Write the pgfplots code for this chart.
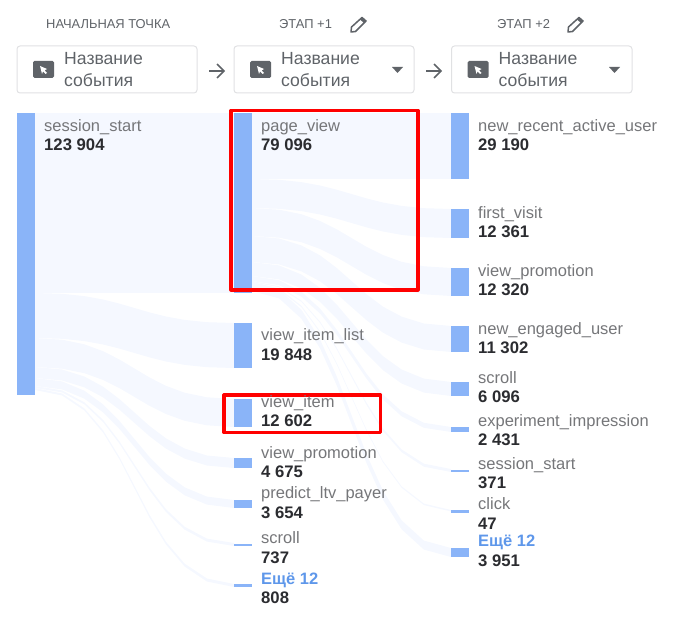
\documentclass[border=0pt]{standalone}
\usepackage{fontspec}
\setmainfont{Liberation Sans}
\usepackage{pgfplots}
\pgfplotsset{compat=1.18}
\definecolor{flowc}{HTML}{F5F8FF}
\definecolor{barc}{HTML}{8AB4F8}
\definecolor{labc}{HTML}{757679}
\definecolor{valc}{HTML}{2B2C30}
\definecolor{hdrc}{HTML}{5F6368}
\definecolor{linkc}{HTML}{5E97EA}
\definecolor{btnc}{HTML}{E0E1E3}
\newcommand{\lab}[5][labc]{%
  \node[anchor=base west,inner sep=0pt,text=#1,font=\fontsize{16.5}{16}\selectfont] at (axis cs:#2,#3+5.7) {#4};
}
\newcommand{\val}[3]{%
  \node[anchor=base west,inner sep=0pt,text=valc,font=\fontsize{16.7}{16}\selectfont\bfseries] at (axis cs:#1,#2+5.7) {#3};
}
\newcommand{\both}[5]{\lab{#1}{#2}{#3}{}\val{#1}{#4}{#5}}
\newcommand{\btn}[3]{%
  \draw[btnc,line width=1pt,rounded corners=3pt] (axis cs:#1,46) rectangle (axis cs:#2,93);
  \fill[hdrc,rounded corners=1.5pt] (axis cs:#1+16,61) rectangle (axis cs:#1+37,78);
  \fill[white] (axis cs:#1+23,66) -- (axis cs:#1+30,69) -- (axis cs:#1+27.5,70.5) -- (axis cs:#1+30,73) -- (axis cs:#1+28.5,74) -- (axis cs:#1+26,71.5) -- (axis cs:#1+25,74) -- cycle;
  \node[anchor=base west,inner sep=0pt,text=hdrc,font=\fontsize{17.6}{16}\selectfont] at (axis cs:#1+47,65) {Название};
  \node[anchor=base west,inner sep=0pt,text=hdrc,font=\fontsize{17.6}{16}\selectfont] at (axis cs:#1+47,87) {события};
}
\newcommand{\tri}[1]{\fill[hdrc] (axis cs:#1,67) -- (axis cs:#1+11,67) -- (axis cs:#1+5.5,73) -- cycle;}
\newcommand{\arr}[1]{\draw[hdrc,line width=1.6pt] (axis cs:#1,71) -- (axis cs:#1+15,71) (axis cs:#1+8,64) -- (axis cs:#1+15,71) -- (axis cs:#1+8,78);}
\newcommand{\pen}[1]{%
  \draw[hdrc,line width=1.5pt,fill=white,line join=round] (axis cs:#1+1,32) -- (axis cs:#1+1.5,27) -- (axis cs:#1+12,17.5) -- (axis cs:#1+16,21) -- (axis cs:#1+5.5,31.5) -- cycle;
  \fill[hdrc] (axis cs:#1+10,19.5) -- (axis cs:#1+12,17.5) -- (axis cs:#1+16,21) -- (axis cs:#1+14,23) -- cycle;
}
\newcommand{\hdr}[2]{\node[anchor=base west,inner sep=0pt,text=hdrc,font=\fontsize{12.9}{12}\selectfont] at (axis cs:#1,28.5) {#2};}
\begin{document}
\begin{tikzpicture}
\begin{axis}[
  scale only axis, width=682pt, height=631pt,
  xmin=0, xmax=682, ymin=0, ymax=631, y dir=reverse,
  hide axis, clip=false,
  flow/.style={fill=flowc,draw=none,forget plot,no marks},
  bar/.style={fill=barc,draw=none,forget plot,no marks},
  box/.style={draw=red,line width=3.2pt,forget plot,no marks,line join=round},
]
\path[use as bounding box] (axis cs:0,0) rectangle (axis cs:682,631);
% flows, first step
\addplot[flow] coordinates {(35,113)(234,113)(234,293)(35,293)} -- cycle;
\addplot[flow] coordinates {(35,293)(62.1,293.8)(84.4,296.1)(103.1,299.5)(119.4,303.6)(134.5,308)(149.6,312.4)(165.9,316.5)(184.6,319.9)(206.9,322.2)(234,323)
 (234,368)(206.9,367.2)(184.6,364.9)(165.9,361.5)(149.6,357.4)(134.5,353)(119.4,348.6)(103.1,344.5)(84.4,341.1)(62.1,338.8)(35,338)} -- cycle;
\addplot[flow] coordinates {(35,338)(62.1,339.7)(84.4,344.3)(103.1,351.2)(119.4,359.5)(134.5,368.5)(149.6,377.5)(165.9,385.8)(184.6,392.7)(206.9,397.3)(234,399)
 (234,427)(206.9,425.3)(184.6,420.8)(165.9,414)(149.6,405.9)(134.5,397)(119.4,388.1)(103.1,380)(84.4,373.2)(62.1,368.7)(35,367)} -- cycle;
\addplot[flow] coordinates {(35,367)(62.1,369.5)(84.4,376.5)(103.1,386.7)(119.4,399)(134.5,412.5)(149.6,426)(165.9,438.3)(184.6,448.5)(206.9,455.5)(234,458)
 (234,468)(206.9,465.5)(184.6,458.6)(165.9,448.6)(149.6,436.3)(134.5,423)(119.4,409.7)(103.1,397.4)(84.4,387.4)(62.1,380.5)(35,378)} -- cycle;
\addplot[flow] coordinates {(35,378)(62.1,381.4)(84.4,390.7)(103.1,404.4)(119.4,420.9)(134.5,439)(149.6,457.1)(165.9,473.6)(184.6,487.3)(206.9,496.6)(234,500)
 (234,508)(206.9,504.6)(184.6,495.3)(165.9,481.6)(149.6,465.1)(134.5,447)(119.4,428.9)(103.1,412.4)(84.4,398.7)(62.1,389.4)(35,386)} -- cycle;
\addplot[flow] coordinates {(35,386)(62.1,390.4)(84.4,402.3)(103.1,419.9)(119.4,441.3)(134.5,464.5)(149.6,487.7)(165.9,509.1)(184.6,526.7)(206.9,538.6)(234,543)
 (234,546)(206.9,541.6)(184.6,529.6)(165.9,511.9)(149.6,490.4)(134.5,467)(119.4,443.6)(103.1,422.1)(84.4,404.4)(62.1,392.4)(35,388)} -- cycle;
\addplot[flow] coordinates {(35,388)(62.1,393.5)(84.4,408.4)(103.1,430.3)(119.4,457)(134.5,486)(149.6,515)(165.9,541.7)(184.6,563.6)(206.9,578.5)(234,584)
 (234,587)(206.9,581.5)(184.6,566.5)(165.9,544.4)(149.6,517.7)(134.5,488.5)(119.4,459.3)(103.1,432.6)(84.4,410.5)(62.1,395.5)(35,390)} -- cycle;
% flows, second step
\addplot[flow] coordinates {(252,113)(451,113)(451,179)(252,179)} -- cycle;
\addplot[flow] coordinates {(252,179)(279.1,179.8)(301.4,182.1)(320.1,185.5)(336.4,189.6)(351.5,194)(366.6,198.4)(382.9,202.5)(401.6,205.9)(423.9,208.2)(451,209)
 (451,238)(423.9,237.2)(401.6,234.9)(382.9,231.5)(366.6,227.4)(351.5,223)(336.4,218.6)(320.1,214.5)(301.4,211.1)(279.1,208.8)(252,208)} -- cycle;
\addplot[flow] coordinates {(252,208)(279.1,209.7)(301.4,214.2)(320.1,221)(336.4,229.1)(351.5,238)(366.6,246.9)(382.9,255)(401.6,261.8)(423.9,266.3)(451,268)
 (451,296)(423.9,294.3)(401.6,289.8)(382.9,283)(366.6,274.9)(351.5,266)(336.4,257.1)(320.1,249)(301.4,242.2)(279.1,237.7)(252,236)} -- cycle;
\addplot[flow] coordinates {(252,236)(279.1,238.5)(301.4,245.4)(320.1,255.4)(336.4,267.7)(351.5,281)(366.6,294.3)(382.9,306.6)(401.6,316.6)(423.9,323.5)(451,326)
 (451,352)(423.9,349.5)(401.6,342.6)(382.9,332.6)(366.6,320.3)(351.5,307)(336.4,293.7)(320.1,281.4)(301.4,271.4)(279.1,264.5)(252,262)} -- cycle;
\addplot[flow] coordinates {(252,262)(279.1,265.4)(301.4,274.5)(320.1,287.9)(336.4,304.2)(351.5,322)(366.6,339.8)(382.9,356.1)(401.6,369.5)(423.9,378.6)(451,382)
 (451,396)(423.9,392.6)(401.6,383.5)(382.9,370.1)(366.6,353.8)(351.5,336)(336.4,318.2)(320.1,301.9)(301.4,288.5)(279.1,279.4)(252,276)} -- cycle;
\addplot[flow] coordinates {(252,276)(279.1,280.2)(301.4,291.7)(320.1,308.6)(336.4,329.2)(351.5,351.5)(366.6,373.8)(382.9,394.4)(401.6,411.3)(423.9,422.8)(451,427)
 (451,432)(423.9,427.8)(401.6,416.3)(382.9,399.4)(366.6,378.8)(351.5,356.5)(336.4,334.2)(320.1,313.6)(301.4,296.7)(279.1,285.2)(252,281)} -- cycle;
\addplot[flow] coordinates {(252,281)(279.1,286.3)(301.4,300.6)(320.1,321.6)(336.4,347.2)(351.5,375)(366.6,402.8)(382.9,428.4)(401.6,449.4)(423.9,463.7)(451,469)
 (451,472)(423.9,466.7)(401.6,452.2)(382.9,431)(366.6,405.1)(351.5,377)(336.4,348.9)(320.1,323)(301.4,301.8)(279.1,287.3)(252,282)} -- cycle;
\addplot[flow] coordinates {(252,282)(279.1,288.4)(301.4,305.7)(320.1,331.2)(336.4,362.3)(351.5,396)(366.6,429.7)(382.9,460.8)(401.6,486.3)(423.9,503.6)(451,510)
 (451,511.5)(423.9,505.1)(401.6,487.8)(382.9,462.3)(366.6,431.2)(351.5,397.5)(336.4,363.8)(320.1,332.7)(301.4,307.2)(279.1,289.9)(252,283)} -- cycle;
\addplot[flow] coordinates {(252,282)(279.1,289.4)(301.4,309.7)(320.1,339.5)(336.4,375.6)(351.5,415)(366.6,454.4)(382.9,490.5)(401.6,520.3)(423.9,540.6)(451,548)
 (451,557)(423.9,549.6)(401.6,529.3)(382.9,499.5)(366.6,463.4)(351.5,424)(336.4,384.6)(320.1,348.5)(301.4,318.7)(279.1,298.4)(252,291)} -- cycle;
% bars
\addplot[bar] coordinates {(17,113)(35,113)(35,395)(17,395)} -- cycle;
\addplot[bar] coordinates {(234,113)(252,113)(252,293)(234,293)} -- cycle;
\addplot[bar] coordinates {(234,323)(252,323)(252,368)(234,368)} -- cycle;
\addplot[bar] coordinates {(234,399)(252,399)(252,427)(234,427)} -- cycle;
\addplot[bar] coordinates {(234,458)(252,458)(252,468)(234,468)} -- cycle;
\addplot[bar] coordinates {(234,500)(252,500)(252,508)(234,508)} -- cycle;
\addplot[bar] coordinates {(234,543.5)(252,543.5)(252,546)(234,546)} -- cycle;
\addplot[bar] coordinates {(234,584)(252,584)(252,587)(234,587)} -- cycle;
\addplot[bar] coordinates {(451,113)(469,113)(469,179)(451,179)} -- cycle;
\addplot[bar] coordinates {(451,209)(469,209)(469,238)(451,238)} -- cycle;
\addplot[bar] coordinates {(451,268)(469,268)(469,296)(451,296)} -- cycle;
\addplot[bar] coordinates {(451,326)(469,326)(469,352)(451,352)} -- cycle;
\addplot[bar] coordinates {(451,382)(469,382)(469,396)(451,396)} -- cycle;
\addplot[bar] coordinates {(451,427)(469,427)(469,432)(451,432)} -- cycle;
\addplot[bar] coordinates {(451,469.5)(469,469.5)(469,472)(451,472)} -- cycle;
\addplot[bar] coordinates {(451,510)(469,510)(469,512.5)(451,512.5)} -- cycle;
\addplot[bar] coordinates {(451,548)(469,548)(469,557)(451,557)} -- cycle;
% highlight boxes
\addplot[box] coordinates {(231,110.5)(418,110.5)(418,290)(231,290)} -- cycle;
\addplot[box] coordinates {(224,395)(380.5,395)(380.5,432.5)(224,432.5)} -- cycle;
% header row
\hdr{46}{НАЧАЛЬНАЯ ТОЧКА}
\hdr{279}{ЭТАП +1}
\hdr{497}{ЭТАП +2}
\pen{350}
\pen{567}
\btn{17}{197}{}
\btn{234}{414}{}
\btn{451.5}{632}{}
\tri{392}
\tri{609}
\arr{209}
\arr{426}
% labels and values
\both{44}{126}{session\_start}{145}{123 904}
\both{261}{126}{page\_view}{145}{79 096}
\both{261}{335}{view\_item\_list}{355}{19 848}
\both{261}{402}{view\_item}{421}{12 602}
\both{261}{453}{view\_promotion}{472}{4 675}
\both{261}{493}{predict\_ltv\_payer}{513}{3 654}
\both{261}{538}{scroll}{558}{737}
\node[anchor=base west,inner sep=0pt,text=linkc,font=\fontsize{16.5}{16}\selectfont\bfseries] at (axis cs:261,584.7) {Ещё 12};
\val{261}{598}{808}
\both{478}{126}{new\_recent\_active\_user}{145}{29 190}
\both{478}{213}{first\_visit}{232}{12 361}
\both{478}{271}{view\_promotion}{290}{12 320}
\both{478}{329}{new\_engaged\_user}{348}{11 302}
\both{478}{378}{scroll}{397}{6 096}
\both{478}{421}{experiment\_impression}{440}{2 431}
\both{478}{464}{session\_start}{483}{371}
\both{478}{504}{click}{524}{47}
\node[anchor=base west,inner sep=0pt,text=linkc,font=\fontsize{16.5}{16}\selectfont\bfseries] at (axis cs:478,546.7) {Ещё 12};
\val{478}{561}{3 951}
\end{axis}
\end{tikzpicture}
\end{document}
